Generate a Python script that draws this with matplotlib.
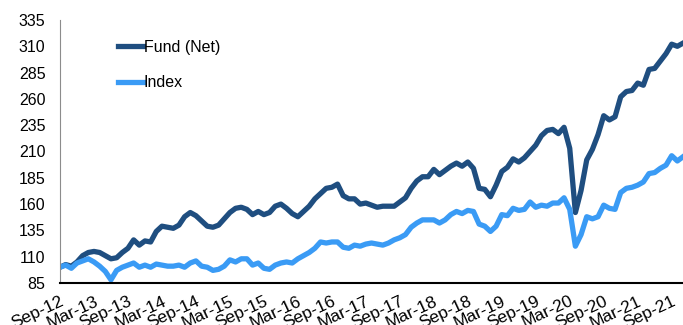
import numpy as np
import matplotlib
matplotlib.use("Agg")
from matplotlib import pyplot as plt

# monthly values, Sep-12 .. Nov-21 (rebased to 100)
fund = [100, 102.5, 101, 105, 111, 114, 115, 114, 111, 108,
        109, 114, 118, 126, 121, 125, 124, 134, 139, 138,
        137, 140, 148, 152, 149, 144, 139, 138, 140, 146,
        152, 156, 157, 155, 150, 153, 150, 152, 158,
        160, 156, 151, 148, 153, 158, 165, 170, 175, 176, 179,
        168, 165, 165, 160, 161, 159, 157, 158,
        158, 158, 162, 166, 175, 182, 186, 186, 193, 188,
        192, 196, 199, 196, 200, 194, 175, 174, 167, 178,
        191, 195, 203, 200, 204, 210, 216, 225, 230, 231,
        227, 233, 213, 152, 173, 202, 212, 226, 244, 240,
        243, 262, 267, 268, 275, 273, 288, 289, 296, 303, 312, 310, 313]

index = [100, 102, 99, 104, 106, 108, 105, 101, 96, 88,
         97, 100, 102, 104, 100, 102, 100, 103, 102, 101,
         101, 102, 100, 104, 106, 101, 100, 97, 98, 101,
         107, 105, 108, 108, 102, 104, 99, 98, 102,
         104, 105, 104, 108, 111, 114, 118, 124, 123, 124, 124,
         119, 118, 121, 120, 122, 123, 122, 121,
         123, 126, 128, 131, 138, 142, 145, 145, 145, 142,
         145, 150, 153, 151, 154, 153, 141, 139, 134, 139,
         150, 149, 156, 154, 155, 162, 157, 159, 158, 161,
         161, 166, 155, 120, 131, 148, 146, 148, 159, 156,
         155, 171, 175, 176, 178, 181, 189, 190, 194, 197, 206, 201, 205]

tick_labels = ["Sep-12", "Mar-13", "Sep-13", "Mar-14", "Sep-14", "Mar-15",
               "Sep-15", "Mar-16", "Sep-16", "Mar-17", "Sep-17", "Mar-18",
               "Sep-18", "Mar-19", "Sep-19", "Mar-20", "Sep-20", "Mar-21",
               "Sep-21"]

plt.rcParams['font.family'] = ['Liberation Sans', 'DejaVu Sans']

fig = plt.figure(figsize=(6.83, 3.25), dpi=100)
ax = fig.add_axes([60/683, 1 - 283/325, 1 - 60/683, 263/325])

x = np.arange(len(fund))
ax.plot(x, fund, color='#1F4E80', lw=3.8, label='Fund (Net)', solid_joinstyle='round')
ax.plot(x, index, color='#3A9BF5', lw=3.8, label='Index', solid_joinstyle='round')

ax.set_xlim(0, len(fund) - 1)
ax.set_ylim(85, 335)
ax.set_yticks(np.arange(85, 336, 25))
ax.set_xticks(np.arange(0, len(fund), 6))
ax.set_xticklabels(tick_labels, rotation=25, ha='right', rotation_mode='anchor')
ax.tick_params(axis='both', length=0, labelsize=11.5, colors='black')
ax.tick_params(axis='x', pad=7.5, labelsize=12.5)
ax.tick_params(axis='y', pad=10.5)

for s in ['top', 'right']:
    ax.spines[s].set_visible(False)
ax.spines['left'].set_color('#8c8c8c')
ax.spines['left'].set_linewidth(0.8)
ax.spines['bottom'].set_color('black')
ax.spines['bottom'].set_linewidth(1.5)

ax.legend(loc='upper left', bbox_to_anchor=(118/683, 1 - 40/325), bbox_transform=fig.transFigure,
          frameon=False, fontsize=11.5, handlelength=1.55, handletextpad=0.05,
          labelspacing=1.28, borderpad=0, borderaxespad=0)

fig.savefig('out.png', dpi=100)
